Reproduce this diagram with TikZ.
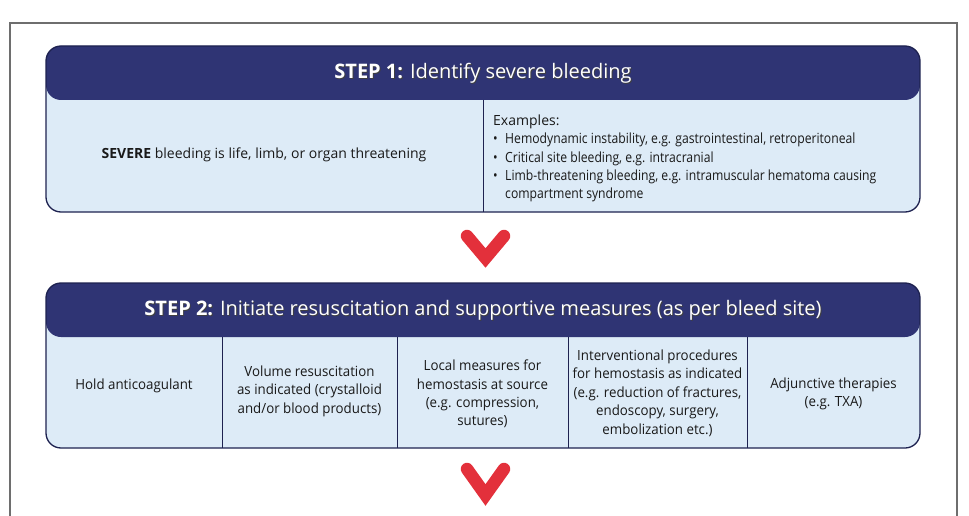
\documentclass[tikz,border=0pt]{standalone}
\usepackage{fontspec}
\setmainfont{Open Sans}
\definecolor{navy}{HTML}{2F3474}
\definecolor{paleblue}{HTML}{DDEBF7}
\definecolor{edge}{HTML}{1E2250}
\definecolor{chevred}{HTML}{E3303B}
\definecolor{framegray}{HTML}{6E6E6E}
\newcommand{\shtext}[1]{\leavevmode\rlap{\kern0.9pt\raisebox{-0.9pt}{\textcolor{black!75}{#1}}}#1}
\tikzset{
  stepbox/.style={draw=edge, line width=1.3pt, fill=paleblue, rounded corners=15pt,
    inner sep=0pt, path picture={\fill[navy] (path picture bounding box.north west) rectangle ([yshift=-54pt]path picture bounding box.north east);}},
  divline/.style={draw=edge, line width=1pt},
  headtext/.style={text=white, font=\fontsize{20}{24}\selectfont, inner sep=0pt},
  bodytext/.style={text=black!90, font=\fontsize{14}{18.4}\selectfont, align=center, inner sep=0pt},
  coltext/.style={bodytext, font=\fontsize{14}{18.4}\selectfont\addfontfeature{FakeStretch=0.95}},
  chev/.style={draw=chevred, line width=12.5pt, line cap=round, line join=miter},
  frameline/.style={draw=framegray, line width=1.5pt}
}
\begin{document}
\begin{tikzpicture}[x=1pt,y=-1pt]
\useasboundingbox (0,0) rectangle (969,516);
\draw[frameline] (10,516) -- (10,23) -- (957,23) -- (957,516);

% Step 1
\node[stepbox, minimum width=874pt, minimum height=166pt] (box1) at (483,129) {};
\draw[divline] (483,100) -- (483,212);
\node[headtext] (h1) at (483,74) {\shtext{\textbf{STEP 1:} Identify severe bleeding}};
\node[bodytext] (t1) at (264,155) {\textbf{SEVERE} bleeding is life, limb, or organ threatening};
\node[bodytext, align=left, anchor=north west] (ex) at (493,114.5) {%
Examples:\\
{\addfontfeature{FakeStretch=0.87}\makebox[12pt][l]{•}Hemodynamic instability, e.g. gastrointestinal, retroperitoneal}\\
{\addfontfeature{FakeStretch=0.87}\makebox[12pt][l]{•}Critical site bleeding, e.g. intracranial}\\
{\addfontfeature{FakeStretch=0.87}\makebox[12pt][l]{•}Limb-threatening bleeding, e.g. intramuscular hematoma causing}\\
{\addfontfeature{FakeStretch=0.87}\hspace*{12pt}compartment syndrome}};

% Chevron 1
\coordinate (c1a) at (467,236);
\coordinate (c1b) at (485.5,258);
\coordinate (c1c) at (504,236);
\draw[chev] (c1a) -- (c1b) -- (c1c);

% Step 2
\node[stepbox, minimum width=874pt, minimum height=165pt] (box2) at (483,365.5) {};
\draw[divline] (222,337) -- (222,448);
\draw[divline] (397,337) -- (397,448);
\draw[divline] (568,337) -- (568,448);
\draw[divline] (747,337) -- (747,448);
\node[headtext] (h2) at (483,311) {\shtext{\textbf{STEP 2:} Initiate resuscitation and supportive measures (as per bleed site)}};
\node[coltext] (p1) at (134,386) {Hold anticoagulant};
\node[coltext] (p2) at (309.5,391) {Volume resuscitation\\as indicated (crystalloid\\and/or blood products)};
\node[coltext] (p3) at (482.5,394) {Local measures for\\hemostasis at source\\(e.g. compression,\\sutures)};
\node[coltext] (p4) at (657.5,393) {Interventional procedures\\for hemostasis as indicated\\(e.g. reduction of fractures,\\endoscopy, surgery,\\embolization etc.)};
\node[coltext] (p5) at (833.5,394) {Adjunctive therapies\\(e.g. TXA)};

% Chevron 2
\coordinate (c2a) at (467,469);
\coordinate (c2b) at (485.5,495);
\coordinate (c2c) at (504,469);
\draw[chev] (c2a) -- (c2b) -- (c2c);
\end{tikzpicture}
\end{document}
